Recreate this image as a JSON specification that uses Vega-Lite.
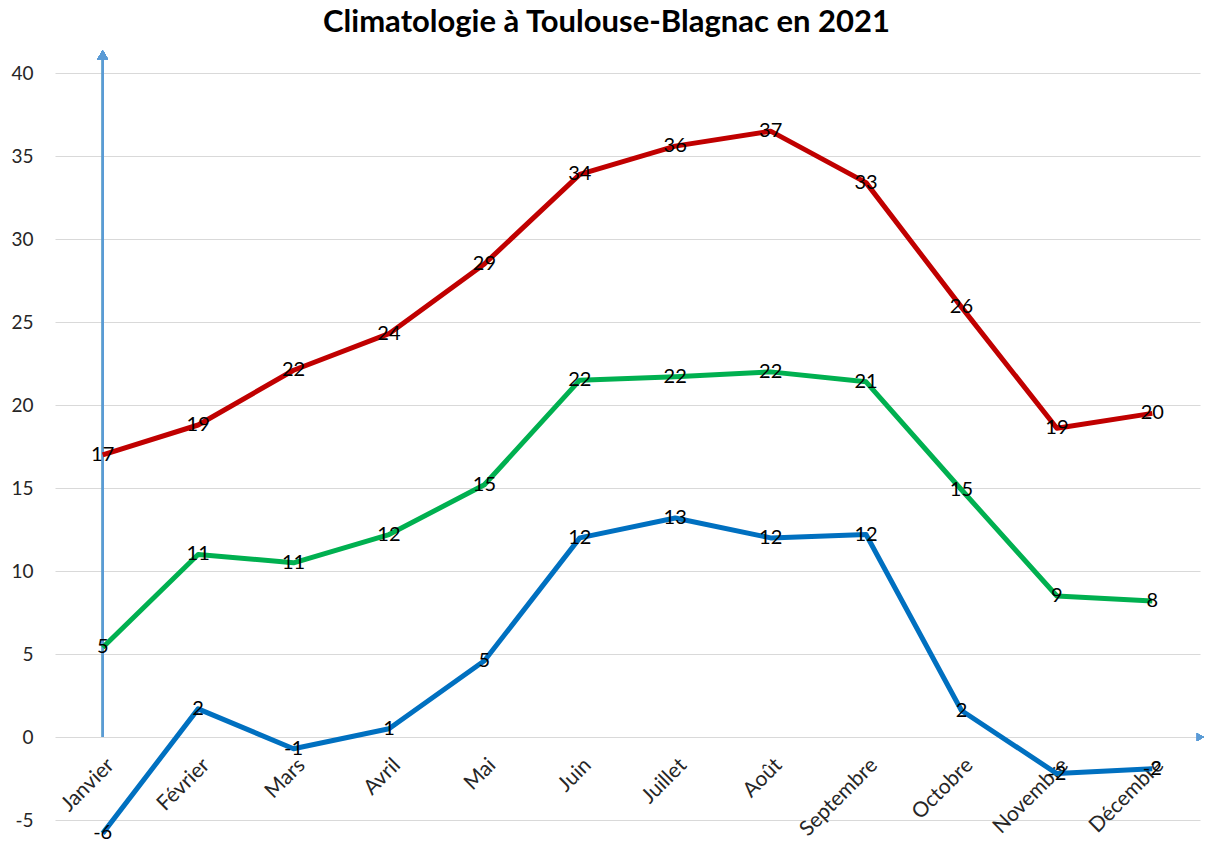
{
  "$schema": "https://vega.github.io/schema/vega-lite/v6.json",
  "width": 1145,
  "height": 800,
  "autosize": {"type": "none"},
  "padding": {"left": 55, "top": 45, "right": 7, "bottom": 1},
  "background": "white",
  "config": {"font": "Lato", "view": {"stroke": null}},
  "title": {
    "text": "Climatologie à Toulouse-Blagnac en 2021",
    "fontSize": 31,
    "fontWeight": "bold",
    "font": "Lato",
    "color": "#000000",
    "anchor": "middle",
    "dx": -21,
    "offset": 6
  },
  "datasets": {
    "temps": [
      {"mois": "Janvier", "serie": "max", "valeur": 17.0},
      {"mois": "Février", "serie": "max", "valeur": 18.8},
      {"mois": "Mars", "serie": "max", "valeur": 22.1},
      {"mois": "Avril", "serie": "max", "valeur": 24.3},
      {"mois": "Mai", "serie": "max", "valeur": 28.5},
      {"mois": "Juin", "serie": "max", "valeur": 33.9},
      {"mois": "Juillet", "serie": "max", "valeur": 35.6},
      {"mois": "Août", "serie": "max", "valeur": 36.5},
      {"mois": "Septembre", "serie": "max", "valeur": 33.4},
      {"mois": "Octobre", "serie": "max", "valeur": 25.9},
      {"mois": "Novembre", "serie": "max", "valeur": 18.6},
      {"mois": "Décembre", "serie": "max", "valeur": 19.5},
      {"mois": "Janvier", "serie": "moy", "valeur": 5.4},
      {"mois": "Février", "serie": "moy", "valeur": 11.0},
      {"mois": "Mars", "serie": "moy", "valeur": 10.5},
      {"mois": "Avril", "serie": "moy", "valeur": 12.2},
      {"mois": "Mai", "serie": "moy", "valeur": 15.2},
      {"mois": "Juin", "serie": "moy", "valeur": 21.5},
      {"mois": "Juillet", "serie": "moy", "valeur": 21.7},
      {"mois": "Août", "serie": "moy", "valeur": 22.0},
      {"mois": "Septembre", "serie": "moy", "valeur": 21.4},
      {"mois": "Octobre", "serie": "moy", "valeur": 14.9},
      {"mois": "Novembre", "serie": "moy", "valeur": 8.5},
      {"mois": "Décembre", "serie": "moy", "valeur": 8.2},
      {"mois": "Janvier", "serie": "min", "valeur": -5.8},
      {"mois": "Février", "serie": "min", "valeur": 1.7},
      {"mois": "Mars", "serie": "min", "valeur": -0.7},
      {"mois": "Avril", "serie": "min", "valeur": 0.5},
      {"mois": "Mai", "serie": "min", "valeur": 4.6},
      {"mois": "Juin", "serie": "min", "valeur": 12.0},
      {"mois": "Juillet", "serie": "min", "valeur": 13.2},
      {"mois": "Août", "serie": "min", "valeur": 12.0},
      {"mois": "Septembre", "serie": "min", "valeur": 12.2},
      {"mois": "Octobre", "serie": "min", "valeur": 1.6},
      {"mois": "Novembre", "serie": "min", "valeur": -2.2},
      {"mois": "Décembre", "serie": "min", "valeur": -1.9}
    ]
  },
  "data": {"name": "temps"},
  "encoding": {
    "x": {
      "field": "mois",
      "type": "ordinal",
      "sort": ["Janvier", "Février", "Mars", "Avril", "Mai", "Juin", "Juillet", "Août", "Septembre", "Octobre", "Novembre", "Décembre"],
      "scale": {"type": "point", "padding": 0.5},
      "axis": {
        "title": null,
        "offset": -108,
        "domain": false,
        "ticks": false,
        "grid": false,
        "labelAngle": -45,
        "labelAlign": "right",
        "labelBaseline": "top",
        "labelFontSize": 21,
        "labelColor": "#262626",
        "labelPadding": 17,
        "labelFont": "Lato"
      }
    },
    "y": {
      "type": "quantitative",
      "scale": {"domain": [-6.5, 41.69], "nice": false, "zero": false},
      "axis": {
        "title": null,
        "values": [-5, 0, 5, 10, 15, 20, 25, 30, 35, 40],
        "labelExpr": "'' + datum.value",
        "domain": false,
        "ticks": false,
        "grid": true,
        "gridColor": "#d9d9d9",
        "gridWidth": 1,
        "labelFontSize": 19,
        "labelColor": "#262626",
        "labelPadding": 22,
        "labelFont": "Lato"
      }
    }
  },
  "layer": [
    {
      "mark": {"type": "rule", "color": "#5b9bd5", "strokeWidth": 1.5},
      "encoding": {"y": {"datum": 0}}
    },
    {
      "mark": {"type": "rule", "color": "#5b9bd5", "strokeWidth": 1.5},
      "encoding": {"x": {"datum": "Janvier"}, "y": {"datum": 0}, "y2": {"datum": 41.2}}
    },
    {
      "mark": {"type": "point", "shape": "triangle-up", "filled": true, "color": "#5b9bd5", "opacity": 1, "size": 110},
      "encoding": {"x": {"datum": "Janvier"}, "y": {"datum": 41.1}}
    },
    {
      "mark": {"type": "point", "shape": "triangle-right", "filled": true, "color": "#5b9bd5", "opacity": 1, "size": 60, "xOffset": 48},
      "encoding": {"x": {"datum": "Décembre"}, "y": {"datum": 0}}
    },
    {
      "mark": {"type": "line", "strokeWidth": 5, "strokeJoin": "round"},
      "encoding": {
        "y": {"field": "valeur", "type": "quantitative"},
        "color": {
          "field": "serie",
          "type": "nominal",
          "scale": {"domain": ["max", "moy", "min"], "range": ["#c00000", "#00b050", "#0070c0"]},
          "legend": null
        }
      }
    },
    {
      "transform": [{"calculate": "'' + round(datum.valeur)", "as": "etiquette"}],
      "mark": {"type": "text", "fontSize": 20, "color": "#000000", "font": "Lato", "baseline": "middle", "align": "center"},
      "encoding": {
        "y": {"field": "valeur", "type": "quantitative"},
        "text": {"field": "etiquette", "type": "nominal"}
      }
    }
  ]
}
